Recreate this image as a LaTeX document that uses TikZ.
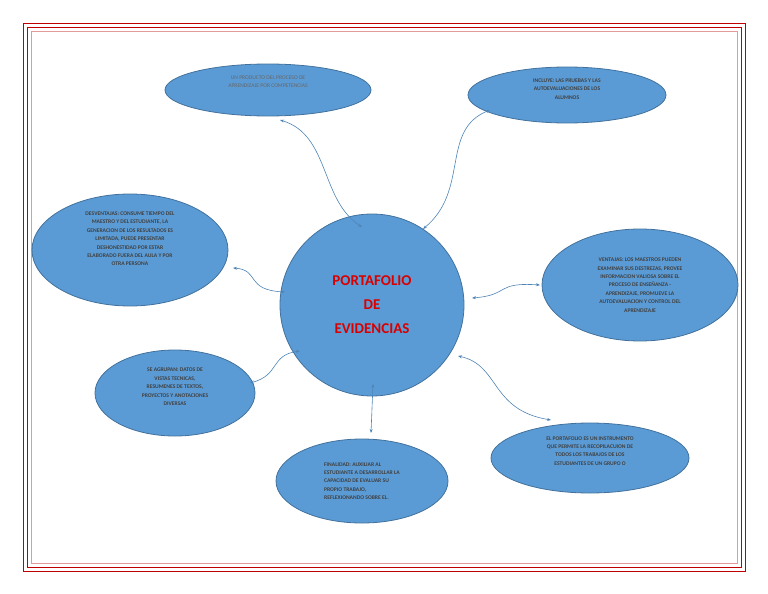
\documentclass[tikz,border=0pt]{standalone}
\usepackage{fontspec}
\setmainfont{Carlito}
\usetikzlibrary{shapes.geometric,arrows.meta}
\definecolor{bubble}{HTML}{5B9BD5}
\definecolor{bubbleline}{HTML}{41719C}
\definecolor{frame}{HTML}{C00000}
\tikzset{
  idea/.style={ellipse,draw=bubbleline,fill=bubble,line width=0.8pt,inner sep=0pt,
    font=\fontsize{5.6}{8.4}\selectfont\bfseries,text=black!75,align=center},
  link/.style={draw=bubble!85!black,line width=0.6pt,{Stealth[length=4pt]}-{Stealth[length=4pt]}}
}
\begin{document}
\begin{tikzpicture}[x=1pt,y=-1pt]
  \useasboundingbox (0,0) rectangle (768,594);
  % marco
  \draw[frame,line width=0.8pt] (23,23) rectangle (745,571);
  \draw[frame,line width=0.8pt] (27,27) rectangle (741,567);
  \draw[frame!40,line width=0.6pt] (31,31) rectangle (737,563);
  % nodos
  \node[ellipse,draw=bubbleline,fill=bubble,line width=0.8pt,minimum width=184,minimum height=182,
    font=\fontsize{15}{24}\selectfont\bfseries,text=red!85!black,align=center] (port) at (372,305)
    {PORTAFOLIO\\DE\\EVIDENCIAS};
  \node[idea,minimum width=206,minimum height=52,font=\fontsize{5.6}{8.4}\selectfont,text=black!60] (prod) at (268,90)
    {UN PRODUCTO DEL PROCESO DE\\APRENDIZAJE POR COMPETENCIAS\\[8pt]};
  \node[idea,minimum width=198,minimum height=56] (incl) at (567,95)
    {INCLUYE: LAS PRUEBAS Y LAS\\AUTOEVALUACIONES DE LOS\\ALUMNOS\\[4pt]};
  \node[idea,minimum width=196,minimum height=112] (desv) at (130,250)
    {DESVENTAJAS: CONSUME TIEMPO DEL\\MAESTRO Y DEL ESTUDIANTE, LA\\GENERACION DE LOS RESULTADOS ES\\LIMITADA, PUEDE PRESENTAR\\DESHONESTIDAD POR ESTAR\\ELABORADO FUERA DEL AULA Y POR\\OTRA PERSONA\\[14pt]};
  \node[idea,minimum width=196,minimum height=112] (vent) at (640,285)
    {VENTAJAS: LOS MAESTROS PUEDEN\\EXAMINAR SUS DESTREZAS, PROVEE\\INFORMACION VALIOSA SOBRE EL\\PROCESO DE ENSEÑANZA -\\APRENDIZAJE, PROMUEVE LA\\AUTOEVALUACION Y CONTROL DEL\\APRENDIZAJE};
  \node[idea,minimum width=160,minimum height=86] (agru) at (175,393)
    {SE AGRUPAN: DATOS DE\\VISTAS TECNICAS,\\RESUMENES DE TEXTOS,\\PROYECTOS Y ANOTACIONES\\DIVERSAS\\[4pt]};
  \node[idea,minimum width=172,minimum height=84,align=left] (fina) at (362,481)
    {FINALIDAD: AUXILIAR AL\\ESTUDIANTE A DESARROLLAR LA\\CAPACIDAD DE EVALUAR SU\\PROPIO TRABAJO,\\REFLEXIONANDO SOBRE EL.};
  \node[idea,minimum width=198,minimum height=70] (inst) at (590,458)
    {EL PORTAFOLIO ES UN INSTRUMENTO\\QUE PERMITE LA RECOPILACUION DE\\TODOS LOS TRABAJOS DE LOS\\ESTUDIANTES DE UN GRUPO O\\[6pt]};
  % conectores
  \coordinate (p1) at (362,227);
  \coordinate (q1) at (280,120);
  \draw[link] (q1) .. controls (330,135) and (320,200) .. (p1);
  \coordinate (p2) at (423,229);
  \coordinate (q2) at (490,110);
  \draw[link] (p2) .. controls (470,190) and (440,130) .. (q2);
  \coordinate (q3) at (233,268);
  \coordinate (p3) at (285,292);
  \draw[link] (q3) .. controls (260,270) and (245,290) .. (p3);
  \coordinate (p4) at (472,298);
  \coordinate (q4) at (540,285);
  \draw[link] (p4) .. controls (510,295) and (495,282) .. (q4);
  \coordinate (q5) at (250,383);
  \coordinate (p5) at (300,351);
  \draw[link] (q5) .. controls (280,375) and (270,355) .. (p5);
  \coordinate (p6) at (373,384);
  \coordinate (q6) at (371,433);
  \draw[link] (p6) -- (q6);
  \coordinate (p7) at (458,356);
  \coordinate (q7) at (551,420);
  \draw[link] (p7) .. controls (500,365) and (490,410) .. (q7);
\end{tikzpicture}
\end{document}
